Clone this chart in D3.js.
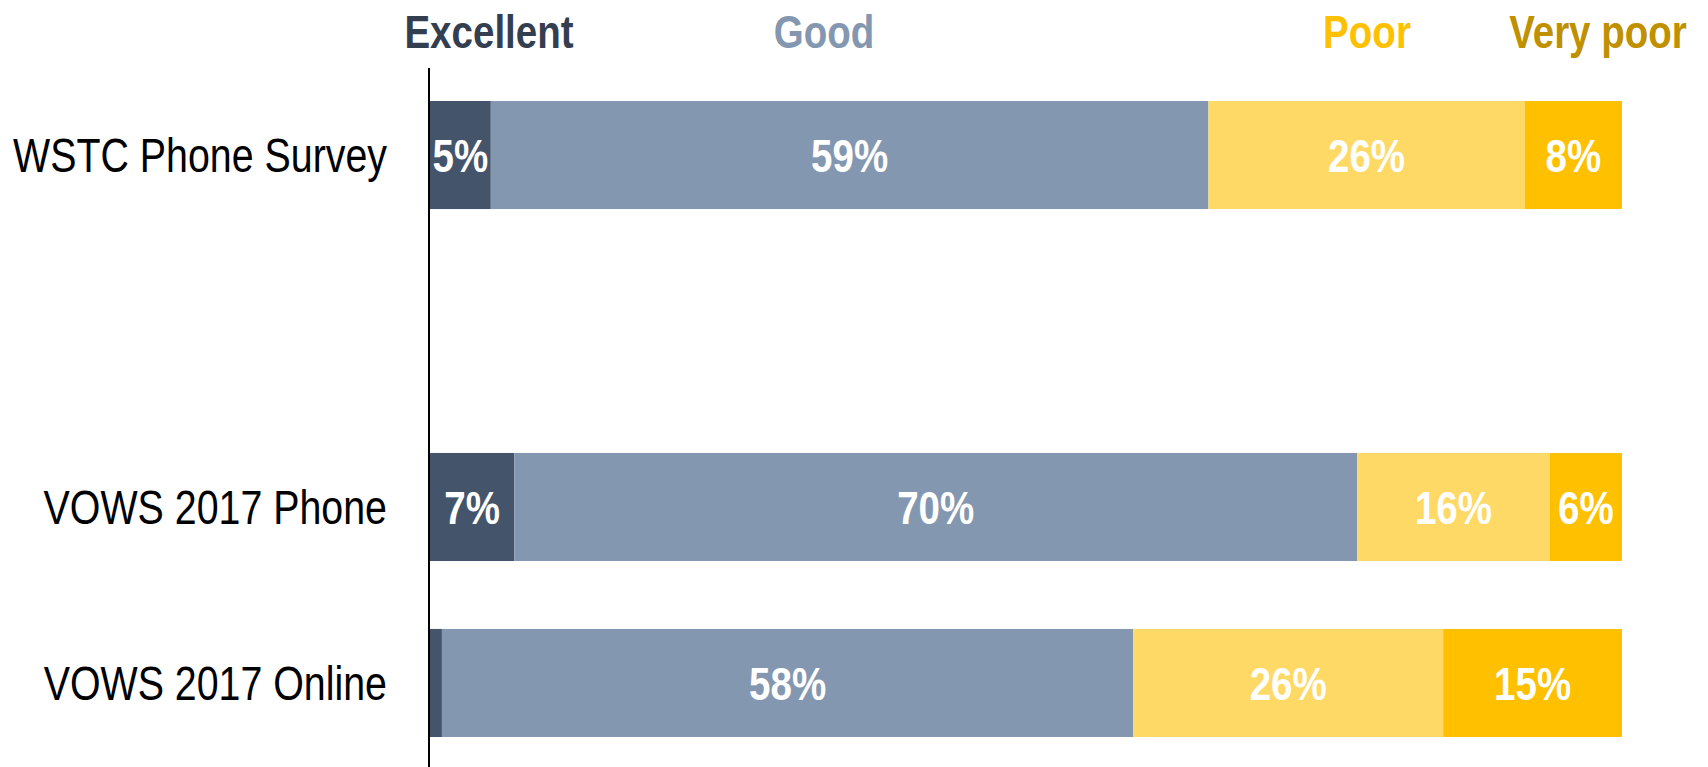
<!DOCTYPE html>
<html>
<head>
<meta charset="utf-8">
<script src="https://cdn.jsdelivr.net/npm/d3@7/dist/d3.min.js"></script>
<style>
  html, body { margin: 0; padding: 0; background: #ffffff; }
  svg { display: block; }
  text { font-family: "Liberation Sans", Arial, Helvetica, sans-serif; }
</style>
</head>
<body>
<svg id="chart" width="1708" height="767"></svg>
<script>
// Survey sources (one stacked bar each)
const categories = ["WSTC Phone Survey", "VOWS 2017 Phone", "VOWS 2017 Online"];
// Rating groups, left to right
const ratings = ["Excellent", "Good", "Poor", "Very poor"];
// Share of respondents per rating, in percent
const excellent = [5, 7, 1];
const good = [59, 70, 58];
const poor = [26, 16, 26];
const veryPoor = [8, 6, 15];

// Styling
const barColors = ["#44546a", "#8497b0", "#ffd966", "#ffc000"];
const headerColors = ["#333f50", "#8497b0", "#ffc000", "#bf9000"];
const headerCenters = [489, 824, 1367, 1598];
const narrow = 0.82; // horizontal squeeze for a condensed look

const width = 1708, height = 767;
const svg = d3.select("#chart");

const rows = categories.map((c, i) => ({
  category: c,
  "Excellent": excellent[i],
  "Good": good[i],
  "Poor": poor[i],
  "Very poor": veryPoor[i]
}));

const series = d3.stack()
  .keys(ratings)
  .offset(d3.stackOffsetExpand)(rows);

// Band slots: an empty slot separates the first survey from the others
const slots = [categories[0], "", categories[1], categories[2]];

const x = d3.scaleLinear().domain([0, 1]).range([430, 1622]);
const y = d3.scaleBand().domain(slots).range([101, 737])
  .paddingInner(0.386).paddingOuter(0);

function squeezedText(parent, px, py, str) {
  return parent.append("g")
    .attr("transform", `translate(${px},${py})`)
    .append("text")
    .attr("transform", `scale(${narrow},1)`)
    .text(str);
}

// Bars
const layers = svg.append("g").selectAll("g")
  .data(series)
  .join("g")
  .attr("fill", (d, i) => barColors[i]);

layers.selectAll("rect")
  .data(d => d)
  .join("rect")
  .attr("x", d => x(d[0]))
  .attr("y", d => y(d.data.category))
  .attr("width", d => x(d[1]) - x(d[0]))
  .attr("height", y.bandwidth());

// Value labels inside segments
const labelLayer = svg.append("g");
series.forEach((s) => {
  s.forEach((d) => {
    const w = x(d[1]) - x(d[0]);
    if (w < 40) return;
    const cx = (x(d[0]) + x(d[1])) / 2;
    const cy = y(d.data.category) + y.bandwidth() / 2;
    squeezedText(labelLayer, cx, cy + 17, d.data[s.key] + "%")
      .attr("text-anchor", "middle")
      .attr("font-size", 47)
      .attr("font-weight", "bold")
      .attr("fill", "#ffffff");
  });
});

// Category labels
const catLayer = svg.append("g");
categories.forEach((c) => {
  squeezedText(catLayer, 387, y(c) + y.bandwidth() / 2 + 17, c)
    .attr("text-anchor", "end")
    .attr("font-size", 48)
    .attr("fill", "#000000");
});

// Vertical baseline
svg.append("line")
  .attr("x1", 429).attr("x2", 429)
  .attr("y1", 68).attr("y2", height)
  .attr("stroke", "#000000")
  .attr("stroke-width", 2);

// Rating headers
const headLayer = svg.append("g");
ratings.forEach((r, i) => {
  squeezedText(headLayer, headerCenters[i], 48, r)
    .attr("text-anchor", "middle")
    .attr("font-size", 47)
    .attr("font-weight", "bold")
    .attr("fill", headerColors[i]);
});
</script>
</body>
</html>
